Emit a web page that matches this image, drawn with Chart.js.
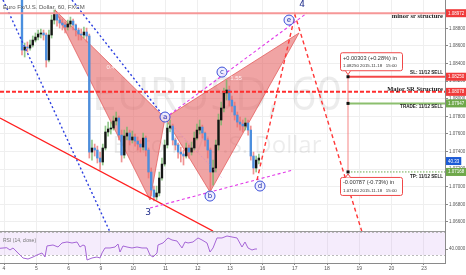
<!DOCTYPE html>
<html>
<head>
<meta charset="utf-8">
<script src="https://cdn.jsdelivr.net/npm/chart.js@4.4.0/dist/chart.umd.min.js"></script>
<style>
  html, body { margin: 0; padding: 0; background: #fff; overflow: hidden; }
  canvas { display: block; }
</style>
</head>
<body>
<canvas id="chart" width="466" height="275"></canvas>
<script>
// ---- data (EURUSD 60, FXCM, Nov 2015) ----
var dayLabels = ['4', '5', '6', '9', '10', '11', '12', '13', '16', '17', '18', '19', '20', '23'];
var firstBarDay = 0.557;   // first visible bar, in trading days from the 4th
var barHours = 2;
var firstOpen = 1.09213;

var closes = [1.08553, 1.08588, 1.08576, 1.08610, 1.08667, 1.08701, 1.08735, 1.08747, 1.08724, 1.08440,
  1.08724, 1.08894, 1.08962, 1.08894, 1.08860, 1.08838, 1.08815, 1.08849, 1.08883, 1.08838,
  1.08781, 1.08735, 1.08724, 1.08758, 1.08713, 1.07394, 1.07440, 1.07417, 1.07326, 1.07281,
  1.07440, 1.07622, 1.07656, 1.07667, 1.07747, 1.07781, 1.07587, 1.07360, 1.07576, 1.07610,
  1.07531, 1.07565, 1.07519, 1.07485, 1.07451, 1.07553, 1.07417, 1.07167, 1.06963, 1.06884,
  1.06929, 1.07099, 1.07258, 1.07474, 1.07667, 1.07690, 1.07531, 1.07474, 1.07394, 1.07372,
  1.07349, 1.07440, 1.07394, 1.07440, 1.07553, 1.07644, 1.07678, 1.07610, 1.07531, 1.07417,
  1.07167, 1.07213, 1.07474, 1.07758, 1.07894, 1.08065, 1.08099, 1.07985, 1.07917, 1.07815,
  1.07735, 1.07712, 1.07690, 1.07724, 1.07644, 1.07349, 1.07213, 1.07303, 1.07326];

var highs = [1.09235, 1.08633, 1.08645, 1.08667, 1.08713, 1.08747, 1.08781, 1.08792, 1.08781, 1.08747,
  1.08781, 1.08951, 1.09008, 1.08985, 1.08928, 1.08906, 1.08872, 1.08894, 1.08928, 1.08906,
  1.08849, 1.08803, 1.08792, 1.08815, 1.08803, 1.08735, 1.07531, 1.07485, 1.07462, 1.07394,
  1.07485, 1.07690, 1.07735, 1.07735, 1.07803, 1.07849, 1.07803, 1.07644, 1.07644, 1.07678,
  1.07644, 1.07633, 1.07599, 1.07565, 1.07531, 1.07610, 1.07576, 1.07440, 1.07213, 1.07008,
  1.07008, 1.07167, 1.07326, 1.07531, 1.07724, 1.07758, 1.07712, 1.07553, 1.07497, 1.07451,
  1.07417, 1.07497, 1.07474, 1.07508, 1.07622, 1.07712, 1.07758, 1.07701, 1.07622, 1.07553,
  1.07440, 1.07303, 1.07531, 1.07826, 1.07962, 1.08122, 1.08212, 1.08144, 1.08031, 1.07962,
  1.07849, 1.07792, 1.07758, 1.07781, 1.07758, 1.07690, 1.07394, 1.07349, 1.07372];

var lows = [1.08497, 1.08474, 1.08531, 1.08553, 1.08588, 1.08645, 1.08667, 1.08690, 1.08667, 1.08360,
  1.08417, 1.08690, 1.08849, 1.08826, 1.08803, 1.08781, 1.08747, 1.08781, 1.08815, 1.08781,
  1.08713, 1.08667, 1.08667, 1.08690, 1.08645, 1.07326, 1.07303, 1.07349, 1.07270, 1.07190,
  1.07247, 1.07417, 1.07576, 1.07599, 1.07644, 1.07701, 1.07531, 1.07281, 1.07326, 1.07531,
  1.07474, 1.07497, 1.07462, 1.07417, 1.07394, 1.07417, 1.07349, 1.07099, 1.06895, 1.06838,
  1.06849, 1.06895, 1.07076, 1.07235, 1.07440, 1.07622, 1.07474, 1.07417, 1.07326, 1.07281,
  1.07247, 1.07326, 1.07326, 1.07360, 1.07417, 1.07531, 1.07599, 1.07553, 1.07462, 1.07326,
  1.06963, 1.07019, 1.07167, 1.07417, 1.07701, 1.07849, 1.07985, 1.07917, 1.07849, 1.07758,
  1.07678, 1.07644, 1.07622, 1.07644, 1.07587, 1.07303, 1.07144, 1.07167, 1.07258];

var rsiDays = [-0.124, 0.084, 0.186, 0.279, 0.433, 0.588, 0.743, 0.898, 1.022, 1.176,
  1.269, 1.331, 1.517, 1.672, 1.796, 1.950, 2.105, 2.260, 2.353, 2.446,
  2.508, 2.570, 2.724, 2.879, 2.972, 3.034, 3.127, 3.282, 3.437, 3.529,
  3.591, 3.684, 3.808, 3.963, 4.118, 4.272, 4.427, 4.520, 4.613, 4.737,
  4.768, 4.923, 5.077, 5.201, 5.356, 5.511, 5.604, 5.697, 5.851, 6.006,
  6.130, 6.285, 6.378, 6.471, 6.594, 6.749, 6.904, 7.059, 7.214, 7.368,
  7.461, 7.554, 7.678, 7.771, 7.833];
var rsiValues = [41.7, 42.7, 38.7, 42.2, 33.5, 24.8, 23.0, 26.5, 30.0, 33.5,
  26.5, 45.7, 47.4, 43.9, 50.9, 52.6, 50.9, 52.6, 43.9, 47.4,
  45.7, 21.3, 24.8, 26.5, 24.8, 33.5, 42.2, 42.2, 43.9, 49.1,
  35.2, 45.7, 43.9, 42.2, 43.9, 42.2, 42.2, 30.0, 26.5, 33.5,
  47.4, 50.9, 59.6, 56.1, 54.3, 42.2, 52.6, 50.9, 52.6, 59.6,
  56.1, 50.9, 35.2, 42.2, 59.6, 59.6, 63.0, 61.3, 59.6, 43.9,
  52.6, 42.2, 38.7, 40.4, 40.4];

var priceTicks = [1.088, 1.086, 1.084, 1.082, 1.080, 1.078, 1.076, 1.074, 1.072, 1.070, 1.068, 1.066];
var rsiTicks = [40];
var rsiBand = [30, 70];

var minorSR = 1.08972;
var majorSR = 1.08078;
var slPrice = 1.08250;
var tradePrice = 1.07947;
var tpPrice = 1.07168;
var tradeDay = 10.65;

// XABCD pattern points [day, price]
var harmonic = [[1.579, 1.09008], [4.520, 1.06849], [4.985, 1.07781], [6.378, 1.06940], [9.133, 1.08747]];
var harmonicRatios = ['0.447', '1.55'];

var blueLines = [[[-0.031, 1.09122], [3.282, 1.06485]], [[2.105, 1.09122], [4.985, 1.07781]]];
var redTrend = [[-0.124, 1.07781], [6.471, 1.06497]];
var waveLines = [[[4.985, 1.07781], [9.381, 1.08974]], [[4.520, 1.06758], [8.947, 1.07190]]];
var waveFaint = [[5.139, 1.07724], [6.749, 1.07099]];
var projLines = [[7.833, 1.07076], [9.009, 1.08951], [11.084, 1.06485]];

var waveLabels = [
  { t: 'a', d: 4.985, p: 1.07792, ring: true },
  { t: 'b', d: 6.378, p: 1.06894, ring: true },
  { t: 'c', d: 6.749, p: 1.08303, ring: true },
  { t: 'd', d: 7.926, p: 1.07008, ring: true },
  { t: 'e', d: 8.824, p: 1.08894, ring: true },
  { t: '3', d: 4.458, p: 1.06701, ring: false },
  { t: '4', d: 9.226, p: 1.09070, ring: false }
];

var axisTags = [
  { v: 1.08972, text: '1.08972', color: '#f03a3a' },
  { v: 1.08250, text: '1.08250', color: '#f03a3a' },
  { v: 1.08078, text: '1.08078', color: '#f03a3a' },
  { v: 1.07947, text: '1.07947', color: '#6ea84a' },
  { v: 1.07292, text: '40.33', color: '#1c5bd6' },
  { v: 1.07168, text: '1.07168', color: '#6ea84a' }
];

var title = 'Euro Fx/U.S. Dollar, 60, FXCM';
var watermark = ['EURUSD, 60', 'Euro Fx/U.S. Dollar'];

// ---- chart ----
var opens = closes.map(function (c, i) { return i === 0 ? firstOpen : closes[i - 1]; });
var barDays = closes.map(function (c, i) { return firstBarDay + i * barHours / 24; });
var bodyColors = closes.map(function (c, i) { return c >= opens[i] ? '#151515' : '#4a8fdf'; });
var wickColors = closes.map(function (c, i) { return c >= opens[i] ? 'rgba(110,180,100,0.75)' : 'rgba(235,110,110,0.75)'; });

Chart.defaults.font.family = '"Liberation Sans", Arial, sans-serif';

function P(s, pt) { return [s.x.getPixelForValue(pt[0]), s.y.getPixelForValue(pt[1])]; }

function path(ctx, s, pts, color, width, dash) {
  ctx.beginPath();
  ctx.strokeStyle = color;
  ctx.lineWidth = width;
  ctx.setLineDash(dash || []);
  pts.forEach(function (pt, i) {
    var q = P(s, pt);
    if (i) ctx.lineTo(q[0], q[1]); else ctx.moveTo(q[0], q[1]);
  });
  ctx.stroke();
  ctx.setLineDash([]);
}

function tri(ctx, s, a, b, c) {
  var A = P(s, a), B = P(s, b), C = P(s, c);
  ctx.beginPath();
  ctx.moveTo(A[0], A[1]); ctx.lineTo(B[0], B[1]); ctx.lineTo(C[0], C[1]); ctx.closePath();
  ctx.fill();
  ctx.stroke();
}

function roundBox(ctx, x, y, w, h, r) {
  ctx.beginPath();
  ctx.moveTo(x + r, y);
  ctx.arcTo(x + w, y, x + w, y + h, r);
  ctx.arcTo(x + w, y + h, x, y + h, r);
  ctx.arcTo(x, y + h, x, y, r);
  ctx.arcTo(x, y, x + w, y, r);
  ctx.closePath();
}

var drawings = {
  id: 'drawings',
  beforeDatasetsDraw: function (chart) {
    var ctx = chart.ctx, ca = chart.chartArea, s = chart.scales;
    ctx.save();
    // watermark
    ctx.fillStyle = 'rgba(0,0,0,0.075)';
    ctx.textAlign = 'center';
    ctx.textBaseline = 'alphabetic';
    ctx.font = '45px "Open Sans"';
    ctx.fillText(watermark[0], 217, 110);
    ctx.font = '24px "Open Sans"';
    ctx.fillText(watermark[1], 217, 153);

    // RSI band
    var b1 = s.yr.getPixelForValue(rsiBand[1]), b0 = s.yr.getPixelForValue(rsiBand[0]);
    ctx.fillStyle = 'rgba(175,110,235,0.13)';
    ctx.fillRect(ca.left, b1, ca.right - ca.left, b0 - b1);
    ctx.strokeStyle = '#bbb';
    ctx.lineWidth = 1;
    ctx.setLineDash([2, 2]);
    [b1, b0].forEach(function (yy) {
      ctx.beginPath(); ctx.moveTo(ca.left, Math.round(yy) + 0.5); ctx.lineTo(ca.right, Math.round(yy) + 0.5); ctx.stroke();
    });
    ctx.setLineDash([]);

    // harmonic pattern fill
    ctx.beginPath();
    ctx.rect(ca.left, s.y.top, ca.right - ca.left, s.y.bottom - s.y.top);
    ctx.clip();
    ctx.fillStyle = 'rgba(228,90,90,0.55)';
    ctx.strokeStyle = 'rgba(225,80,80,0.7)';
    ctx.lineWidth = 1;
    tri(ctx, s, harmonic[0], harmonic[1], harmonic[2]);
    tri(ctx, s, harmonic[2], harmonic[3], harmonic[4]);
    ctx.restore();
  },
  afterDatasetsDraw: function (chart) {
    var ctx = chart.ctx, ca = chart.chartArea, s = chart.scales;
    ctx.save();
    ctx.beginPath();
    ctx.rect(ca.left, s.y.top, ca.right - ca.left, s.y.bottom - s.y.top);
    ctx.clip();

    // ratio labels on XB and BD
    ctx.fillStyle = 'rgba(255,255,255,0.85)';
    ctx.font = '6px "Liberation Sans"';
    ctx.textAlign = 'center';
    ctx.textBaseline = 'middle';
    [[0, 2], [2, 4]].forEach(function (pr, i) {
      var a = P(s, harmonic[pr[0]]), b = P(s, harmonic[pr[1]]);
      ctx.fillText(harmonicRatios[i], (a[0] + b[0]) / 2 + 4, (a[1] + b[1]) / 2 + 3);
    });

    // trend lines
    blueLines.forEach(function (l) { path(ctx, s, l, '#2c3fe0', 1.4, [2, 2.5]); });
    path(ctx, s, redTrend, '#ff1f1f', 1.4);
    waveLines.forEach(function (l) { path(ctx, s, l, '#e23be8', 1.1, [3, 2.5]); });
    path(ctx, s, waveFaint, 'rgba(200,120,220,0.6)', 0.8, [1.5, 2]);
    path(ctx, s, projLines, '#ff3838', 1.4, [4, 3]);

    // horizontal structure lines
    path(ctx, s, [[s.x.min, minorSR], [s.x.max, minorSR]], 'rgba(245,140,140,0.9)', 2);
    path(ctx, s, [[s.x.min, majorSR], [s.x.max, majorSR]], '#ff2e2e', 2, [4, 2]);

    // trade tool
    path(ctx, s, [[tradeDay, slPrice], [tradeDay, tpPrice]], 'rgba(245,120,120,0.9)', 1);
    path(ctx, s, [[tradeDay, slPrice], [s.x.max, slPrice]], '#f44848', 2);
    path(ctx, s, [[tradeDay, tradePrice], [s.x.max, tradePrice]], '#8cbf6e', 2);
    path(ctx, s, [[tradeDay, tpPrice], [s.x.max, tpPrice]], '#6aa84f', 1, [1.5, 1.5]);
    ctx.fillStyle = '#111';
    [slPrice, tradePrice, tpPrice].forEach(function (v) {
      var q = P(s, [tradeDay, v]);
      ctx.fillRect(q[0] - 1.5, q[1] - 1.5, 3, 3);
    });

    // wave labels
    ctx.textAlign = 'center';
    ctx.textBaseline = 'middle';
    waveLabels.forEach(function (w) {
      var q = P(s, [w.d, w.p]);
      if (w.ring) {
        ctx.beginPath();
        ctx.arc(q[0], q[1], 5, 0, Math.PI * 2);
        ctx.fillStyle = 'rgba(235,235,255,0.8)';
        ctx.fill();
        ctx.strokeStyle = '#3b4fd8';
        ctx.lineWidth = 1;
        ctx.stroke();
        ctx.fillStyle = '#2233aa';
        ctx.font = '7px "DejaVu Sans"';
        ctx.fillText(w.t, q[0], q[1]);
      } else {
        ctx.fillStyle = '#1f2d8a';
        ctx.font = '9px "DejaVu Sans"';
        ctx.fillText(w.t, q[0], q[1]);
      }
    });

    // texts on the right
    ctx.fillStyle = '#222';
    ctx.textAlign = 'right';
    ctx.textBaseline = 'middle';
    var xr = ca.right - 2;
    ctx.font = 'bold 6.5px "Liberation Serif"';
    ctx.fillText('minor sr structure', xr, s.y.getPixelForValue(minorSR) + 3);
    ctx.fillText('Major SR Structure', xr, s.y.getPixelForValue(majorSR) - 3);
    ctx.font = 'bold 4.6px "Liberation Sans"';
    ctx.fillText('SL: 11/12 SELL', xr, s.y.getPixelForValue(slPrice) - 4);
    ctx.fillText('TRADE: 11/12 SELL', xr, s.y.getPixelForValue(tradePrice) + 3);
    ctx.fillText('TP: 11/12 SELL', xr, s.y.getPixelForValue(tpPrice) + 4.5);

    // callout boxes
    var ax = s.x.getPixelForValue(tradeDay);
    var ySL = s.y.getPixelForValue(slPrice), yTP = s.y.getPixelForValue(tpPrice);
    function callout(top, tipY, l1, l2a, l2b) {
      ctx.fillStyle = '#fff';
      ctx.strokeStyle = '#f04848';
      ctx.lineWidth = 1;
      roundBox(ctx, ax - 7.5, top + 0.5, 62, 18, 2);
      ctx.fill(); ctx.stroke();
      ctx.beginPath();
      var edge = tipY < top ? top + 0.5 : top + 18.5;
      ctx.moveTo(ax - 2.5, edge); ctx.lineTo(ax, tipY); ctx.lineTo(ax + 2.5, edge);
      ctx.fillStyle = '#fff'; ctx.fill(); ctx.stroke();
      ctx.fillStyle = '#333';
      ctx.textAlign = 'left';
      ctx.font = '5.6px "Liberation Sans"';
      ctx.fillText(l1, ax - 5, top + 6);
      ctx.font = '4.4px "Liberation Sans"';
      ctx.fillText(l2a, ax - 5, top + 13.5);
      ctx.fillText(l2b, ax + 12, top + 13.5);
    }
    callout(ySL - 24.5, ySL - 2, '+0.00303 (+0.28%) in', '1.08250', '2015-11-18   15:00');
    callout(yTP + 5, yTP + 2, '-0.00787 (-0.73%) in', '1.07160', '2015-11-18   15:00');
    ctx.restore();

    // pane separator
    ctx.save();
    ctx.strokeStyle = '#9a9a9a';
    ctx.lineWidth = 1;
    ctx.beginPath();
    ctx.moveTo(ca.left, Math.round(s.y.bottom) + 0.5);
    ctx.lineTo(ca.right, Math.round(s.y.bottom) + 0.5);
    ctx.stroke();

    // header texts
    ctx.fillStyle = '#555';
    ctx.textAlign = 'left';
    ctx.textBaseline = 'alphabetic';
    ctx.font = '6px "Liberation Sans"';
    ctx.fillText(title, 3, 9);
    ctx.fillStyle = '#777';
    ctx.font = '5px "Liberation Sans"';
    ctx.fillText('RSI (14, close)', 3, s.yr.top + 11);
    ctx.restore();
  },
  afterDraw: function (chart) {
    var ctx = chart.ctx, ca = chart.chartArea, s = chart.scales;
    ctx.save();
    ctx.textAlign = 'left';
    ctx.textBaseline = 'middle';
    ctx.font = '4.5px "Liberation Sans"';
    axisTags.forEach(function (t) {
      var yy = s.y.getPixelForValue(t.v);
      var w = ctx.measureText(t.text).width + 4;
      ctx.fillStyle = t.color;
      ctx.fillRect(ca.right + 1, yy - 4, Math.max(w, 12), 8);
      ctx.fillStyle = '#fff';
      ctx.fillText(t.text, ca.right + 3, yy + 0.3);
    });
    ctx.restore();
  }
};

new Chart(document.getElementById('chart'), {
  type: 'bar',
  data: {
    datasets: [
      {
        label: 'wicks',
        data: barDays.map(function (d, i) { return { x: d, y: [lows[i], highs[i]] }; }),
        backgroundColor: wickColors,
        barThickness: 1,
        grouped: false,
        yAxisID: 'y',
        order: 2
      },
      {
        label: 'bodies',
        data: barDays.map(function (d, i) { return { x: d, y: [opens[i], closes[i]] }; }),
        backgroundColor: bodyColors,
        barThickness: 1.7,
        minBarLength: 1,
        grouped: false,
        yAxisID: 'y',
        order: 1
      },
      {
        type: 'line',
        label: 'RSI (14, close)',
        data: rsiDays.map(function (d, i) { return { x: d, y: rsiValues[i] }; }),
        borderColor: '#a566d6',
        borderWidth: 1,
        pointRadius: 0,
        tension: 0,
        yAxisID: 'yr',
        order: 0
      }
    ]
  },
  options: {
    responsive: false,
    animation: false,
    devicePixelRatio: 1,
    layout: { padding: 0 },
    plugins: { legend: { display: false }, tooltip: { enabled: false } },
    scales: {
      x: {
        type: 'linear', min: -0.124, max: 13.653, offset: false,
        grid: { color: '#efefef', offset: false, tickLength: 2, tickColor: '#888' },
        border: { color: '#8a8a8a' },
        ticks: {
          color: '#555', font: { size: 5 }, padding: 1, maxRotation: 0, autoSkip: false,
          callback: function (v) { return dayLabels[v]; }
        },
        afterBuildTicks: function (sc) { sc.ticks = dayLabels.map(function (l, i) { return { value: i }; }); },
        afterFit: function (sc) { sc.height = 12; sc.paddingLeft = 0; sc.paddingRight = 0; }
      },
      y: {
        type: 'linear', position: 'right', stack: 'panes', stackWeight: 231,
        min: 1.06497, max: 1.09122,
        grid: { color: '#efefef', tickLength: 3, tickColor: '#888' },
        border: { color: '#8a8a8a' },
        ticks: {
          color: '#555', font: { size: 4.5 }, padding: 1, autoSkip: false,
          callback: function (v) { return v.toFixed(5); }
        },
        afterBuildTicks: function (sc) { sc.ticks = priceTicks.map(function (v) { return { value: v }; }); },
        afterFit: function (sc) { sc.width = 21; sc.paddingTop = 0; sc.paddingBottom = 0; }
      },
      yr: {
        type: 'linear', position: 'right', stack: 'panes', stackWeight: 32,
        min: 16.1, max: 71.7,
        grid: { drawOnChartArea: false, tickLength: 3, tickColor: '#888' },
        border: { color: '#8a8a8a' },
        ticks: {
          color: '#555', font: { size: 4.5 }, padding: 1, autoSkip: false,
          callback: function (v) { return v.toFixed(4); }
        },
        afterBuildTicks: function (sc) { sc.ticks = rsiTicks.map(function (v) { return { value: v }; }); },
        afterFit: function (sc) { sc.width = 21; sc.paddingTop = 0; sc.paddingBottom = 0; }
      }
    }
  },
  plugins: [drawings]
});
</script>
</body>
</html>
